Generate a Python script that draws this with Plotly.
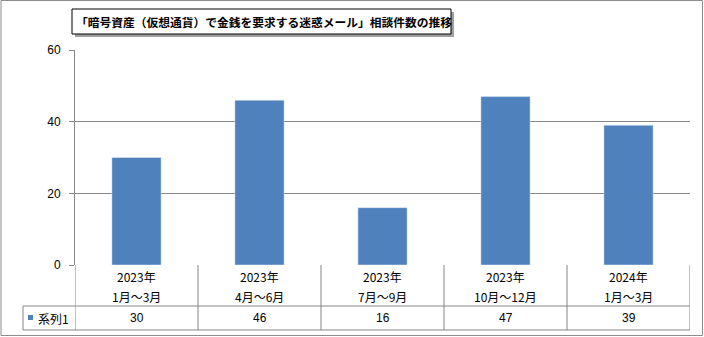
import plotly.graph_objects as go

title = "「暗号資産（仮想通貨）で金銭を要求する迷惑メール」相談件数の推移"
years = ["2023年", "2023年", "2023年", "2023年", "2024年"]
periods = ["1月～3月", "4月～6月", "7月～9月", "10月～12月", "1月～3月"]
values = [30, 46, 16, 47, 39]
series_name = "系列1"
y_ticks = [0, 20, 40, 60]

W, H = 704, 337
L, R, T, B = 75, 14, 50, 72
pw, ph = W - L - R, H - T - B
px = lambda x: (x - L) / pw
py = lambda y: (H - B - y) / ph

bar_color = "#4F81BD"
grid = "#868686"
font = "Noto Sans CJK JP"
xs = list(range(len(values)))

fig = go.Figure(go.Bar(x=xs, y=values, marker_color=bar_color, width=0.4,
                       name=series_name, showlegend=False))

shapes = []
# outer border
shapes.append(dict(type="rect", xref="paper", yref="paper", x0=px(1), x1=px(702.5), y0=py(335.5), y1=py(0.5),
                   line=dict(color="#8c8c8c", width=1), layer="below"))
# table horizontal lines
for yy, x0 in [(306, 23), (330, 23)]:
    shapes.append(dict(type="line", xref="paper", yref="paper", x0=px(x0), x1=1, y0=py(yy), y1=py(yy),
                       line=dict(color=grid, width=1)))
# table verticals at category boundaries
for i in range(len(values) + 1):
    shapes.append(dict(type="line", xref="x", yref="paper", x0=i - 0.5, x1=i - 0.5, y0=py(330), y1=0,
                       line=dict(color=grid, width=1)))
shapes.append(dict(type="line", xref="paper", yref="paper", x0=px(23), x1=px(23), y0=py(330), y1=py(306),
                   line=dict(color=grid, width=1)))
# legend key
shapes.append(dict(type="rect", xref="paper", yref="paper", x0=px(28), x1=px(33), y0=py(320), y1=py(315),
                   fillcolor=bar_color, line=dict(width=0)))
# title shadow + box
bx0, bx1, by0, by1 = 72, 451, 9, 34
shapes.append(dict(type="rect", xref="paper", yref="paper", x0=px(bx0 + 3), x1=px(bx1 + 3), y0=py(by1 + 3), y1=py(by0 + 3),
                   fillcolor="#a0a0a0", line=dict(width=0), layer="above"))
shapes.append(dict(type="rect", xref="paper", yref="paper", x0=px(bx0), x1=px(bx1), y0=py(by1), y1=py(by0),
                   fillcolor="white", line=dict(color="black", width=1), layer="above"))

ann = []
ann.append(dict(text="<b>" + title + "</b>", xref="paper", yref="paper", x=px((bx0 + bx1) / 2 + 2), y=py(21.5),
                showarrow=False, font=dict(family=font, size=11.75, color="black"), xanchor="center", yanchor="middle"))
for i, (yr, pr, v) in enumerate(zip(years, periods, values)):
    ann.append(dict(text=yr, xref="x", yref="paper", x=i, y=py(276), showarrow=False,
                    font=dict(family=font, size=12, color="black"), yanchor="middle"))
    ann.append(dict(text=pr, xref="x", yref="paper", x=i, y=py(296), showarrow=False,
                    font=dict(family=font, size=12, color="black"), yanchor="middle"))
    ann.append(dict(text=str(v), xref="x", yref="paper", x=i, y=py(318), showarrow=False,
                    font=dict(family="Liberation Sans", size=12, color="black"), yanchor="middle"))
ann.append(dict(text=series_name, xref="paper", yref="paper", x=px(36), y=py(318), xanchor="left",
                showarrow=False, font=dict(family=font, size=12, color="black"), yanchor="middle"))

fig.update_layout(
    width=W, height=H, margin=dict(l=L, r=R, t=T, b=B, pad=0),
    paper_bgcolor="white", plot_bgcolor="white",
    shapes=shapes, annotations=ann, bargap=0.6,
    xaxis=dict(range=[-0.5, len(values) - 0.5], showticklabels=False, showgrid=False, zeroline=False,
               showline=False, ticks=""),
    yaxis=dict(range=[0, 60], tickvals=y_ticks, showgrid=True, gridcolor=grid, gridwidth=1,
               zeroline=False, showline=True, linecolor=grid, linewidth=1, ticks="outside", ticklen=5,
               tickcolor=grid, tickfont=dict(family="Liberation Sans", size=12, color="black"),
               ticklabelstandoff=6),
)
fig.write_html("out.html")
